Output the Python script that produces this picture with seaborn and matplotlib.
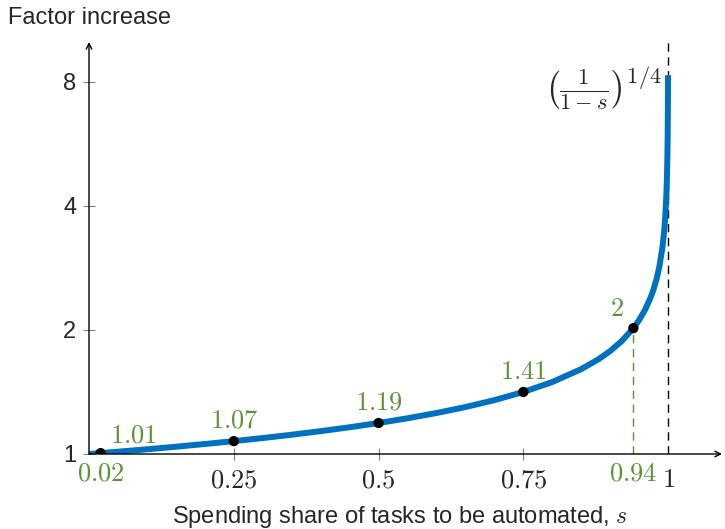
import matplotlib
matplotlib.use('Agg')
import matplotlib.pyplot as plt
import seaborn as sns

# curve: share s and factor increase
S_CURVE = [0, 0.05, 0.1, 0.15, 0.2, 0.25, 0.3, 0.35, 0.4, 0.45, 0.5, 0.55,
           0.6, 0.65, 0.7, 0.75, 0.8, 0.85, 0.88, 0.9, 0.92, 0.94, 0.95,
           0.96, 0.97, 0.975, 0.98, 0.985, 0.99, 0.993, 0.995, 0.997, 0.998,
           0.9987, 0.9992, 0.9996, 0.99979]
FACTOR_CURVE = [1.0, 1.0129, 1.0267, 1.0415, 1.0574, 1.0746, 1.0933, 1.1137,
                1.1362, 1.1612, 1.1892, 1.2210, 1.2574, 1.3001, 1.3512, 1.4142,
                1.4953, 1.6069, 1.6990, 1.7783, 1.8803, 2.0205, 2.1147, 2.2361,
                2.4027, 2.5149, 2.6591, 2.8574, 3.1623, 3.4572, 3.7606, 4.2728,
                4.7287, 5.2660, 5.9460, 7.0711, 8.307]

S_POINTS = [0.02, 0.25, 0.5, 0.75, 0.94]
FACTOR_POINTS = [1.005, 1.0746, 1.1892, 1.4142, 2.0205]
POINT_LABELS = ['1.01', '1.07', '1.19', '1.41', '2']

X_TICKS = [0.02, 0.25, 0.5, 0.75, 0.94, 1]
X_TICK_LABELS = ['0.02', '0.25', '0.5', '0.75', '0.94', '1']
Y_TICKS = [1, 2, 4, 8]
Y_TICK_LABELS = ['1', '2', '4', '8']

BLUE = '#0070C0'
GREEN = '#5E9236'

sns.set_style('white')
plt.rcParams['font.family'] = ['Liberation Sans', 'DejaVu Sans']
plt.rcParams['mathtext.fontset'] = 'cm'

fig = plt.figure(figsize=(7.25, 5.29), dpi=100)
W, H = 725, 529
ax = fig.add_axes([89 / W, (H - 454) / H, 633 / W, 412 / H])

sns.lineplot(x=S_CURVE, y=FACTOR_CURVE, ax=ax, color=BLUE, lw=4.3,
             solid_capstyle='butt', zorder=3)
sns.scatterplot(x=S_POINTS, y=FACTOR_POINTS, ax=ax, color='black', s=55,
                edgecolor='none', zorder=4)

ax.set_yscale('log', base=2)
ax.set_xlim(0, 1.093)
ax.set_ylim(1, 10)
for sp in ax.spines.values():
    sp.set_visible(False)

# axes with arrow heads
ax.annotate('', xy=(1.093, 1), xytext=(0, 1),
            arrowprops=dict(arrowstyle='->', lw=1, color='black',
                            shrinkA=0, shrinkB=0), annotation_clip=False)
ax.annotate('', xy=(0, 10), xytext=(0, 1),
            arrowprops=dict(arrowstyle='->', lw=1, color='black',
                            shrinkA=0, shrinkB=0), annotation_clip=False)

# dashed guides
ax.plot([1, 1], [1, 10], color='black', lw=1, ls=(0, (6, 4)), zorder=2)
ax.plot([0.94, 0.94], [1, FACTOR_POINTS[-1]], color=GREEN, lw=1,
        ls=(0, (6, 4)), zorder=2)

# ticks
ax.set_yticks(Y_TICKS)
ax.set_yticklabels(Y_TICK_LABELS, fontsize=17)
ax.yaxis.set_minor_locator(matplotlib.ticker.NullLocator())
ax.tick_params(axis='y', direction='inout', length=8.5, width=0.8,
               color='gray', pad=5, left=True)

ax.set_xticks(X_TICKS)
ax.set_xticklabels(['$' + t + '$' for t in X_TICK_LABELS], fontsize=19)
ax.tick_params(axis='x', direction='inout', length=8.5, width=0.8,
               color='gray', pad=6, bottom=True)
for i, tick in enumerate(ax.xaxis.get_major_ticks()):
    if X_TICK_LABELS[i] in ('0.02', '0.94', '1'):
        tick.tick1line.set_visible(False)
    if X_TICK_LABELS[i] in ('0.02', '0.94'):
        tick.label1.set_color(GREEN)
        tick.set_pad(1)

# point labels
offsets = [(24, 4), (0, 6), (0, 6), (0, 6), (-12, 5)]
for s, f, lab, off in zip(S_POINTS, FACTOR_POINTS, POINT_LABELS, offsets):
    ax.annotate('$' + lab + '$', xy=(s, f), xytext=off,
                textcoords='offset points', ha='center', va='bottom',
                color=GREEN, fontsize=19)

ax.text(0.988, 7.7, r'$\left(\frac{1}{1-s}\right)^{1/4}$', ha='right',
        va='center', fontsize=23)

fig.text(8 / W, 1 - 18 / H, 'Factor increase', ha='left', va='center',
         fontsize=17)
fig.text(400 / W, 1 - 517 / H, 'Spending share of tasks to be automated, $s$',
         ha='center', va='center', fontsize=17)

fig.savefig('out.png', dpi=100)
